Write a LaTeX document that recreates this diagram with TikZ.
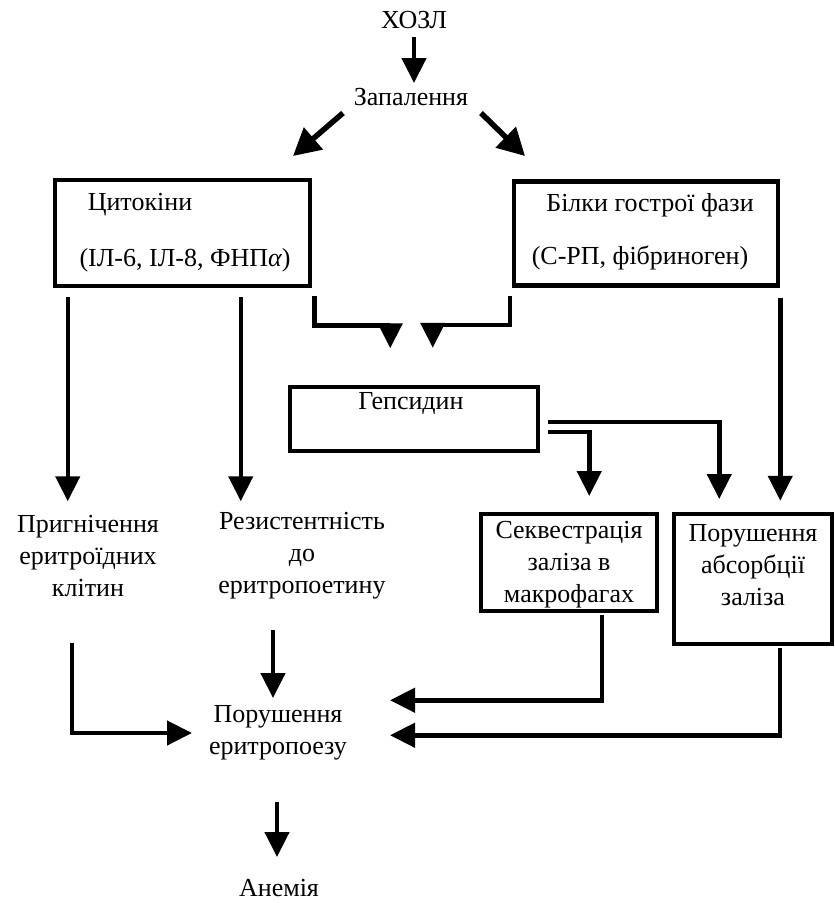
\documentclass[tikz,border=0pt]{standalone}
\usepackage{fontspec}
\setmainfont{Liberation Serif}
\usetikzlibrary{arrows.meta,calc}
\begin{document}
\begin{tikzpicture}[x=1pt,y=-1pt,
  txt/.style={font=\fontsize{26}{32}\selectfont, inner sep=0pt, align=center},
  boxx/.style={draw, line width=4.5pt, inner sep=0pt},
  arr/.style={line width=4.5pt, -{Triangle[length=25pt,width=24pt]}},
  darr/.style={line width=5.5pt, -{Triangle[length=27pt,width=28pt]}},
  ]
\useasboundingbox (0,0) rectangle (835,903);
% boxes
\node[boxx, minimum width=255, minimum height=106] (cyt) at (182.5,233) {};
\node[boxx, minimum width=264, minimum height=104] (prot) at (646,233.5) {};
\node[boxx, minimum width=248, minimum height=64] (hep) at (414,419) {};
\node[boxx, minimum width=176, minimum height=97] (seq) at (569,562.5) {};
\node[boxx, minimum width=158, minimum height=130] (abs) at (753,579) {};
% texts
\node[txt] (hozl) at (414,20) {ХОЗЛ};
\node[txt] (inf) at (411,97) {Запалення};
\node[txt] (cyt1) at (140,205) {Цитокіни};
\node[txt] (cyt2) at (185,260) {(ІЛ-6, ІЛ-8, ФНП{\itshape α})};
\node[txt] (prot1) at (650,205) {Білки гострої фази};
\node[txt] (prot2) at (640,258) {(С-РП, фібриноген)};
\node[txt] (hept) at (411,403) {Гепсидин};
\node[txt] (seqt) at (569,565) {Секвестрація\\заліза в\\макрофагах};
\node[txt] (abst) at (753,565) {Порушення\\абсорбції\\заліза};
\node[txt] (supp) at (88,556) {Пригнічення\\еритроїдних\\клітин};
\node[txt] (res) at (302,556) {Резистентність\\до\\еритропоетину};
\node[txt] (eryth) at (278,733) {Порушення\\еритропоезу};
\node[txt] (anem) at (279,888) {Анемія};
% connectors
\draw[arr] ($(hozl.center)+(0,17)$) -- ++(0,46);
\draw[darr] ($(inf.center)+(-68,16)$) -- ++(-50,43);
\draw[darr] ($(inf.center)+(70,16)$) -- ++(44,43);
\draw[arr] ($(cyt.south west)+(15,9)$) -- ++(0,204);
\draw[arr] ($(cyt.south west)+(188,9)$) -- ++(0,204);
\draw[arr] ($(prot.south east)+(0,10)$) -- ++(0,203);
\draw[arr] ($(cyt.south east)+(2,8)$) -- ++(0,29) -- ++(76,0) -- ++(0,23);
\draw[arr] ($(prot.south west)+(-2,8)$) -- ++(0,29) -- ++(-77,0) -- ++(0,23);
\draw[arr] ($(hep.east)+(8,13)$) -- ++(41,0) -- ++(0,64);
\draw[arr] ($(hep.east)+(8,3)$) -- ++(171,0) -- ++(0,77);
\draw[arr] ($(supp.center)+(-16,87)$) -- ++(0,90) -- ++(120,0);
\draw[arr] ($(res.center)+(-29,74)$) -- ++(0,68);
\draw[arr] ($(seq.south)+(33,2)$) -- ++(0,85) -- ++(-212,0);
\draw[arr] ($(abs.south)+(27,2)$) -- ++(0,87) -- ++(-390,0);
\draw[arr] ($(eryth.center)+(-1,69)$) -- ++(0,55);
\end{tikzpicture}
\end{document}
